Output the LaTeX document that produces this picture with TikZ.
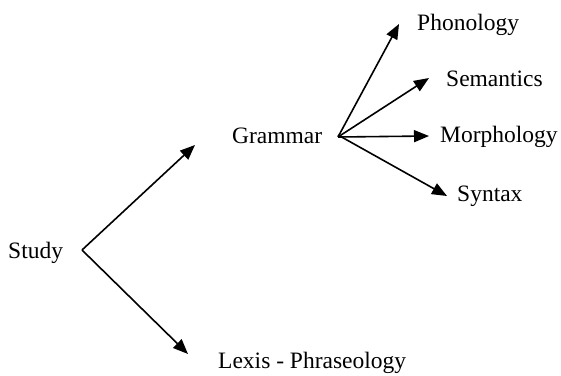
\documentclass[tikz,border=0pt]{standalone}
\usepackage{fontspec}
\setmainfont{Liberation Serif}
\usetikzlibrary{arrows.meta}
\begin{document}
\begin{tikzpicture}[x=1pt,y=-1pt,
  lbl/.style={anchor=base west,inner sep=0pt,font=\fontsize{23.5}{27}\selectfont},
  arr/.style={line width=1.6pt,-{Triangle[length=15pt,width=12pt]}}]
\useasboundingbox (0,0) rectangle (561,375);
\node[lbl] (study) at (8,258) {Study};
\node[lbl] (grammar) at (232,143) {Grammar};
\node[lbl] (lexis) at (218,368) {Lexis - Phraseology};
\node[lbl] (phon) at (417,30) {Phonology};
\node[lbl] (sem) at (446,86) {Semantics};
\node[lbl] (morph) at (440,142) {Morphology};
\node[lbl] (syn) at (457,201) {Syntax};
\coordinate (sv) at (82,250);
\coordinate (gv) at (338,137);
\coordinate (gt) at (195,145);
\coordinate (lt) at (188,354);
\coordinate (pt) at (399,24);
\coordinate (st) at (429,78);
\coordinate (mt) at (429,136);
\coordinate (yt) at (447,196);
\draw[arr] (sv) -- (gt);
\draw[arr] (sv) -- (lt);
\draw[arr] (gv) -- (pt);
\draw[arr] (gv) -- (st);
\draw[arr] (gv) -- (mt);
\draw[arr] ([yshift=2pt]gv) -- (yt);
\end{tikzpicture}
\end{document}
